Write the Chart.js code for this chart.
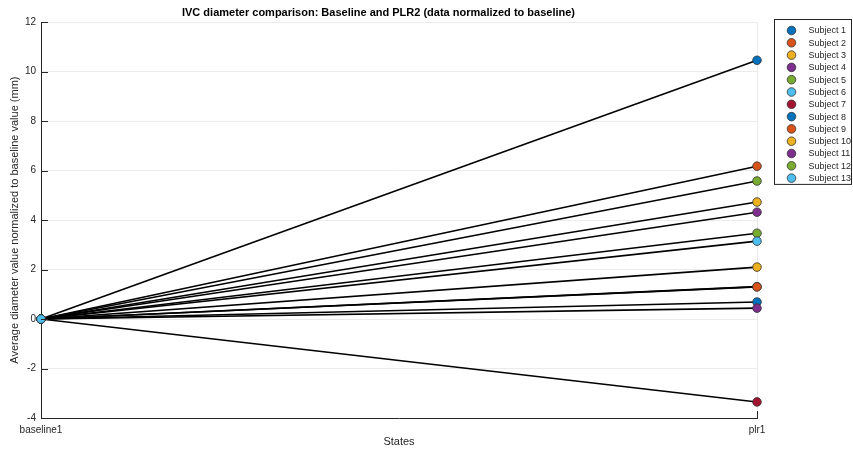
<!DOCTYPE html>
<html>
<head>
<meta charset="utf-8">
<title>IVC diameter comparison</title>
<script src="https://cdn.jsdelivr.net/npm/chart.js@4.4.1/dist/chart.umd.min.js"></script>
<style>
    html, body { margin: 0; padding: 0; background: #fff; }
    #wrap { width: 853px; height: 453px; position: relative; }
</style>
</head>
<body>
<div id="wrap"><canvas id="ivc-chart"></canvas></div>
<script>
    "use strict";

    // Data
    var states = ["baseline1", "plr1"];
    var subjects = ["Subject 1", "Subject 2", "Subject 3", "Subject 4", "Subject 5", "Subject 6", "Subject 7",
        "Subject 8", "Subject 9", "Subject 10", "Subject 11", "Subject 12", "Subject 13"];
    var baselineValues = [0, 0, 0, 0, 0, 0, 0, 0, 0, 0, 0, 0, 0];
    var plrValues = [10.46, 6.18, 4.73, 4.32, 5.58, 1.31, -3.35, 0.69, 1.30, 2.10, 0.44, 3.47, 3.15];
    var yTicks = [-4, -2, 0, 2, 4, 6, 8, 10, 12];
    var markerColors = ["#0072BD", "#D95319", "#EDB120", "#7E2F8E", "#77AC30", "#4DBEEE", "#A2142F"];

    var FONT = "'Liberation Sans', Arial, Helvetica, sans-serif";
    var AXIS_COLOR = "#262626";
    var GRID_COLOR = "#ebebeb";

    // later subjects drawn on top (lower order = drawn last)
    var datasets = subjects.map(function (name, i) {
        return {
            label: name,
            data: [baselineValues[i], plrValues[i]],
            order: subjects.length - i,
            borderColor: "#000",
            borderWidth: 1.6,
            pointRadius: 4.3,
            pointHoverRadius: 4.3,
            pointBackgroundColor: markerColors[i % markerColors.length],
            pointBorderColor: "#333",
            pointBorderWidth: 0.8,
            tension: 0
        };
    });

    // MATLAB style inward ticks
    var innerTicks = {
        id: "innerTicks",
        afterDatasetsDraw: function (chart) {
            var ctx = chart.ctx;
            var x = chart.scales.x, y = chart.scales.y;
            var area = chart.chartArea;
            ctx.save();
            ctx.strokeStyle = AXIS_COLOR;
            ctx.lineWidth = 1;
            ctx.beginPath();
            yTicks.forEach(function (v) {
                var py = Math.round(y.getPixelForValue(v)) + 0.5;
                ctx.moveTo(area.left, py);
                ctx.lineTo(area.left + 7, py);
            });
            states.forEach(function (s, i) {
                var px = Math.round(x.getPixelForValue(i)) + 0.5;
                ctx.moveTo(px, area.bottom);
                ctx.lineTo(px, area.bottom - 7);
            });
            ctx.stroke();
            ctx.restore();
        }
    };

    // Legend box on the right
    var sideLegend = {
        id: "sideLegend",
        afterDraw: function (chart) {
            var ctx = chart.ctx;
            var left = 774.5, top = 19.5, width = 77, rowH = 12.3;
            var height = subjects.length * rowH + 5;
            ctx.save();
            ctx.fillStyle = "#fff";
            ctx.fillRect(left, top, width, height);
            ctx.strokeStyle = "#262626";
            ctx.lineWidth = 1;
            ctx.strokeRect(left, top, width, height);
            ctx.font = "9px " + FONT;
            ctx.textBaseline = "middle";
            subjects.forEach(function (name, i) {
                var cy = top + 11 + i * rowH;
                ctx.beginPath();
                ctx.arc(left + 17, cy, 4.3, 0, Math.PI * 2);
                ctx.fillStyle = markerColors[i % markerColors.length];
                ctx.fill();
                ctx.strokeStyle = "#333";
                ctx.lineWidth = 0.8;
                ctx.stroke();
                ctx.fillStyle = "#262626";
                ctx.fillText(name, left + 34, cy + 0.5);
            });
            ctx.restore();
        }
    };

    var ctx1 = document.getElementById("ivc-chart").getContext("2d");
    var myChart1 = new Chart(ctx1, {
        type: "line",
        data: {
            labels: states,
            datasets: datasets
        },
        options: {
            responsive: true,
            maintainAspectRatio: false,
            animation: false,
            layout: {
                padding: { top: 1, right: 96, bottom: 0, left: 0 }
            },
            plugins: {
                legend: { display: false },
                tooltip: { enabled: false },
                title: {
                    display: true,
                    text: "IVC diameter comparison: Baseline and PLR2 (data normalized to baseline)",
                    color: "#000",
                    font: { family: FONT, size: 11, weight: "bold" },
                    padding: { top: 5, bottom: 3 }
                }
            },
            scales: {
                x: {
                    type: "category",
                    offset: false,
                    grid: { color: GRID_COLOR, drawTicks: false },
                    border: { color: AXIS_COLOR, width: 1 },
                    ticks: {
                        color: AXIS_COLOR,
                        padding: 6,
                        maxRotation: 0,
                        font: { family: FONT, size: 10 }
                    },
                    title: {
                        display: true,
                        text: "States",
                        color: AXIS_COLOR,
                        font: { family: FONT, size: 11 },
                        padding: { top: 0, bottom: 4 }
                    },
                    afterFit: function (scale) { scale.height = 35; }
                },
                y: {
                    min: -4,
                    max: 12,
                    afterBuildTicks: function (scale) {
                        scale.ticks = yTicks.map(function (v) { return { value: v }; });
                    },
                    grid: { color: GRID_COLOR, drawTicks: false },
                    border: { color: AXIS_COLOR, width: 1 },
                    ticks: {
                        color: AXIS_COLOR,
                        padding: 5,
                        font: { family: FONT, size: 10 }
                    },
                    title: {
                        display: true,
                        text: "Average diameter value normalized to baseline value (mm)",
                        color: AXIS_COLOR,
                        font: { family: FONT, size: 11 },
                        padding: { top: 8, bottom: 0 }
                    },
                    afterFit: function (scale) { scale.width = 41; }
                }
            }
        },
        plugins: [innerTicks, sideLegend]
    });
</script>
</body>
</html>
